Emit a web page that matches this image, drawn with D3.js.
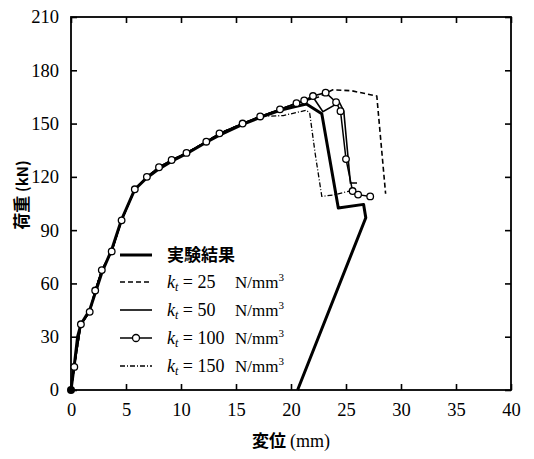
<!DOCTYPE html>
<html><head><meta charset="utf-8">
<script src="https://cdn.jsdelivr.net/npm/d3@7"></script>
<style>body{margin:0;background:#fff}svg{display:block}</style>
</head><body>
<svg id="c" width="534" height="459"></svg>
<script>
// ---- data (displacement mm, load kN) ----
const xTicks = [0,5,10,15,20,25,30,35,40];
const yTicks = [0,30,60,90,120,150,180,210];
const seriesNames = ["実験結果","k25","k50","k100","k150"];
const kValues = [25,50,100,150];

const expData = [[0,0],[0.3,14],[0.6,30],[0.9,37],[1.7,45],[2.8,66],[3.7,79],[4.6,96],[5.8,113],[6.9,119.5],[8,124.5],[9.2,129],[10.5,133],[12.3,139.5],[13.5,143.5],[15.6,149.5],[17.2,153.5],[19,157.5],[20.3,159.5],[21.4,161],[22.8,155.5],[24.3,102.5],[26.6,104.5],[26.8,97],[20.6,0]];
const baseData = [[0,0],[0.3,13],[0.9,37],[1.7,44],[2.2,56],[2.8,67.5],[3.7,78],[4.6,95.5],[5.8,113],[6.9,120],[8,125.4],[9.15,129.5],[10.5,133.5],[12.3,139.8],[13.5,144.5],[15.6,150],[17.2,154],[19,158],[20.5,161.5]];
const k25Tail = [[22.5,165],[23.8,169],[25.5,168.5],[27.8,165.5],[28.6,110.5]];
const k50Tail = [[22,165],[22.9,156.7],[24.4,162],[24.8,157],[25.4,116.5],[26,116.5]];
const k100Tail = [[21.2,163],[22,165.5],[23.15,167.4],[24.1,162],[24.5,157],[25,130],[25.6,112],[26.1,110],[27.2,109]];
const k150Tail = [[19.3,154.5],[21.4,157.5],[21.7,155.8],[22.2,133],[22.8,109],[23.85,109.8],[25.7,112.5]];

const k25Data = baseData.concat(k25Tail);
const k50Data = baseData.concat(k50Tail);
const k100Data = baseData.concat(k100Tail);
const k150Data = baseData.slice(0,17).concat(k150Tail);

// ---- layout ----
const svg = d3.select("#c");
const L=71, R=511, T=17, B=390;
const x = d3.scaleLinear().domain([0,40]).range([L,R]);
const y = d3.scaleLinear().domain([0,210]).range([B,T]);
const serif = "'Liberation Serif','Times New Roman',serif";
const cjk = "'Noto Sans CJK JP','Noto Sans CJK SC',sans-serif";

// frame
svg.append("rect").attr("x",L).attr("y",T).attr("width",R-L).attr("height",B-T)
  .attr("fill","none").attr("stroke","#000").attr("stroke-width",1.8);

// axes (inward ticks)
const tl = 6;
const gb = svg.append("g").attr("transform",`translate(0,${B})`)
  .call(d3.axisBottom(x).tickValues(xTicks).tickSizeInner(-tl).tickSizeOuter(0).tickPadding(tl+7));
const gt = svg.append("g").attr("transform",`translate(0,${T})`)
  .call(d3.axisTop(x).tickValues(xTicks).tickSizeInner(-tl).tickSizeOuter(0).tickFormat(""));
const gl = svg.append("g").attr("transform",`translate(${L},0)`)
  .call(d3.axisLeft(y).tickValues(yTicks).tickSizeInner(-tl).tickSizeOuter(0).tickPadding(tl+6));
const gr = svg.append("g").attr("transform",`translate(${R},0)`)
  .call(d3.axisRight(y).tickValues(yTicks).tickSizeInner(-tl).tickSizeOuter(0).tickFormat(""));
[gb,gt,gl,gr].forEach(g=>{
  g.select(".domain").remove();
  g.selectAll(".tick line").attr("stroke","#000").attr("stroke-width",1.6);
  g.selectAll("text").attr("font-family",serif).attr("font-size",18.5).attr("fill","#000");
});

const line = d3.line().x(d=>x(d[0])).y(d=>y(d[1]));
const clip = svg.append("g");

// model curves
clip.append("path").datum(k150Data).attr("d",line).attr("fill","none")
  .attr("stroke","#000").attr("stroke-width",1.3).attr("stroke-dasharray","5,2,1,2");
clip.append("path").datum(k25Data).attr("d",line).attr("fill","none")
  .attr("stroke","#000").attr("stroke-width",1.6).attr("stroke-dasharray","5,3");
clip.append("path").datum(k50Data).attr("d",line).attr("fill","none")
  .attr("stroke","#000").attr("stroke-width",1.6);
clip.append("path").datum(k100Data).attr("d",line).attr("fill","none")
  .attr("stroke","#000").attr("stroke-width",1.5);
// experiment
clip.append("path").datum(expData).attr("d",line).attr("fill","none")
  .attr("stroke","#000").attr("stroke-width",3).attr("stroke-linejoin","round");
// markers for k=100
clip.selectAll("circle.m").data(k100Data.slice(1)).join("circle").attr("class","m")
  .attr("cx",d=>x(d[0])).attr("cy",d=>y(d[1])).attr("r",3.3)
  .attr("fill","#fff").attr("stroke","#000").attr("stroke-width",1.3);
// origin dot
svg.append("circle").attr("cx",x(0)).attr("cy",y(0)).attr("r",4).attr("fill","#000");

// legend
const lg = svg.append("g");
const rowsY = [255,282,310,338,366];
const lx0=120, lx1=152, tx=167;
const styles = [
  {w:3,dash:null},{w:1.6,dash:"5,3"},{w:1.6,dash:null},{w:1.5,dash:null,marker:true},{w:1.3,dash:"5,2,1,2"}
];
seriesNames.forEach((n,i)=>{
  const s=styles[i];
  const ln = lg.append("line").attr("x1",lx0).attr("x2",lx1).attr("y1",rowsY[i]).attr("y2",rowsY[i])
    .attr("stroke","#000").attr("stroke-width",s.w);
  if(s.dash) ln.attr("stroke-dasharray",s.dash);
  if(s.marker) lg.append("circle").attr("cx",(lx0+lx1)/2).attr("cy",rowsY[i]).attr("r",3.5)
    .attr("fill","#fff").attr("stroke","#000").attr("stroke-width",1.3);
  if(i===0){
    lg.append("text").attr("x",tx).attr("y",rowsY[i]+6).attr("font-family",cjk)
      .attr("font-size",17).attr("font-weight","bold").text(n);
  } else {
    const t = lg.append("text").attr("x",tx).attr("y",rowsY[i]+6).attr("font-family",serif).attr("font-size",18);
    t.append("tspan").attr("font-style","italic").text("k");
    t.append("tspan").attr("font-style","italic").attr("font-size",12).attr("dy",3).text("t");
    t.append("tspan").attr("dy",-3).text(" = " + kValues[i-1]);
    const t2 = lg.append("text").attr("x",235).attr("y",rowsY[i]+6).attr("font-family",serif).attr("font-size",17);
    t2.append("tspan").text("N/mm");
    t2.append("tspan").attr("font-size",11).attr("dy",-7).text("3");
  }
});

// axis titles
const xt = svg.append("text").attr("x",291).attr("y",447).attr("text-anchor","middle").attr("font-size",17);
xt.append("tspan").attr("font-family",cjk).attr("font-weight","bold").text("変位 ");
xt.append("tspan").attr("font-family",serif).attr("font-size",18).text("(mm)");
const yt = svg.append("text").attr("transform","translate(28,195) rotate(-90)").attr("text-anchor","middle").attr("font-size",17);
yt.append("tspan").attr("font-family",cjk).attr("font-weight","bold").text("荷重 ");
yt.append("tspan").attr("font-family",cjk).attr("font-weight","bold").attr("font-size",15).text("(kN)");
</script>
</body></html>
